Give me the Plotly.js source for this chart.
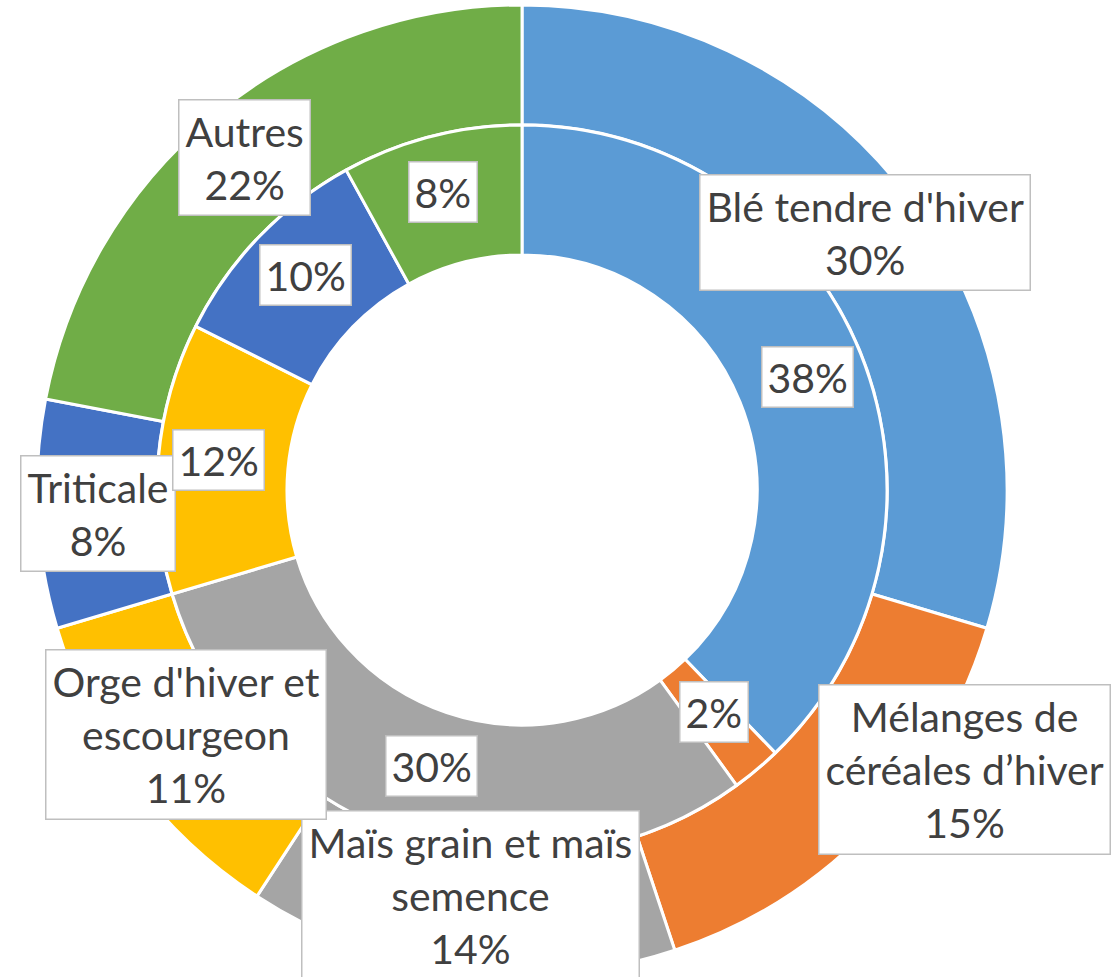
<!DOCTYPE html>
<html>
<head>
<meta charset="utf-8">
<script src="https://cdn.plot.ly/plotly-3.0.1.min.js"></script>
<style>
  html, body { margin: 0; padding: 0; background: #fff; }
  #chart { width: 1112px; height: 977px; }
</style>
</head>
<body>
<div id="chart"></div>
<script>
// outer ring: share of surfaces
var outerLabels = ['Blé tendre d\'hiver', 'Mélanges de<br>céréales d’hiver', 'Maïs grain et maïs<br>semence',
                   'Orge d\'hiver et<br>escourgeon', 'Triticale', 'Autres'];
var outerValues = [29.6, 15.3, 14.3, 11.2, 7.6, 22.0];
// inner ring
var innerValues = [37.8, 2.2, 30.4, 12.0, 9.6, 8.0];
var colors = ['#5B9BD5', '#ED7D31', '#A5A5A5', '#FFC000', '#4472C4', '#70AD47'];

// label box centres (paper fractions)
var outerLabelPos = [[0.7779, 0.7625], [0.8678, 0.2119], [0.4227, 0.0839], [0.1673, 0.2477], [0.0881, 0.4749], [0.2203, 0.8383]];
var innerLabelPos = [[0.7266, 0.6141], [0.6421, 0.2712], [0.3876, 0.2160], [0.1969, 0.5292], [0.2743, 0.7185], [0.3984, 0.8035]];

var font = 'Lato, "Open Sans", sans-serif';

var data = [
  {
    type: 'pie',
    values: outerValues,
    labels: outerLabels,
    sort: false,
    direction: 'clockwise',
    rotation: 0,
    hole: 0.753,
    domain: {x: [0.0333, 0.9056], y: [0.002, 0.995]},
    marker: {colors: colors, line: {color: '#ffffff', width: 3}},
    textinfo: 'none',
    hoverinfo: 'label+percent'
  },
  {
    type: 'pie',
    values: innerValues,
    labels: outerLabels.map(function (l) { return l + ' '; }),
    sort: false,
    direction: 'clockwise',
    rotation: 0,
    hole: 0.644,
    domain: {x: [0.1412, 0.7977], y: [0.1249, 0.8721]},
    marker: {colors: colors, line: {color: '#ffffff', width: 3}},
    textinfo: 'none',
    hoverinfo: 'percent'
  }
];

var annotations = [];
var total = outerValues.reduce(function (a, b) { return a + b; }, 0);
outerLabels.forEach(function (l, i) {
  annotations.push({
    x: outerLabelPos[i][0], y: outerLabelPos[i][1],
    text: l + '<br>' + Math.round(outerValues[i] / total * 100) + '%',
    borderpad: 6
  });
});
var innerTotal = innerValues.reduce(function (a, b) { return a + b; }, 0);
innerValues.forEach(function (v, i) {
  annotations.push({
    x: innerLabelPos[i][0], y: innerLabelPos[i][1],
    text: Math.round(v / innerTotal * 100) + '%',
    borderpad: 5
  });
});
annotations.forEach(function (a) {
  a.xref = 'paper';
  a.yref = 'paper';
  a.xanchor = 'center';
  a.yanchor = 'middle';
  a.showarrow = false;
  a.bgcolor = '#ffffff';
  a.bordercolor = '#bfbfbf';
  a.borderwidth = 1.5;
  a.font = {family: font, size: 41, color: '#404040'};
});

var layout = {
  width: 1112,
  height: 977,
  margin: {l: 0, r: 0, t: 0, b: 0},
  showlegend: false,
  paper_bgcolor: '#ffffff',
  annotations: annotations
};

Plotly.newPlot('chart', data, layout, {displayModeBar: false});
</script>
</body>
</html>
